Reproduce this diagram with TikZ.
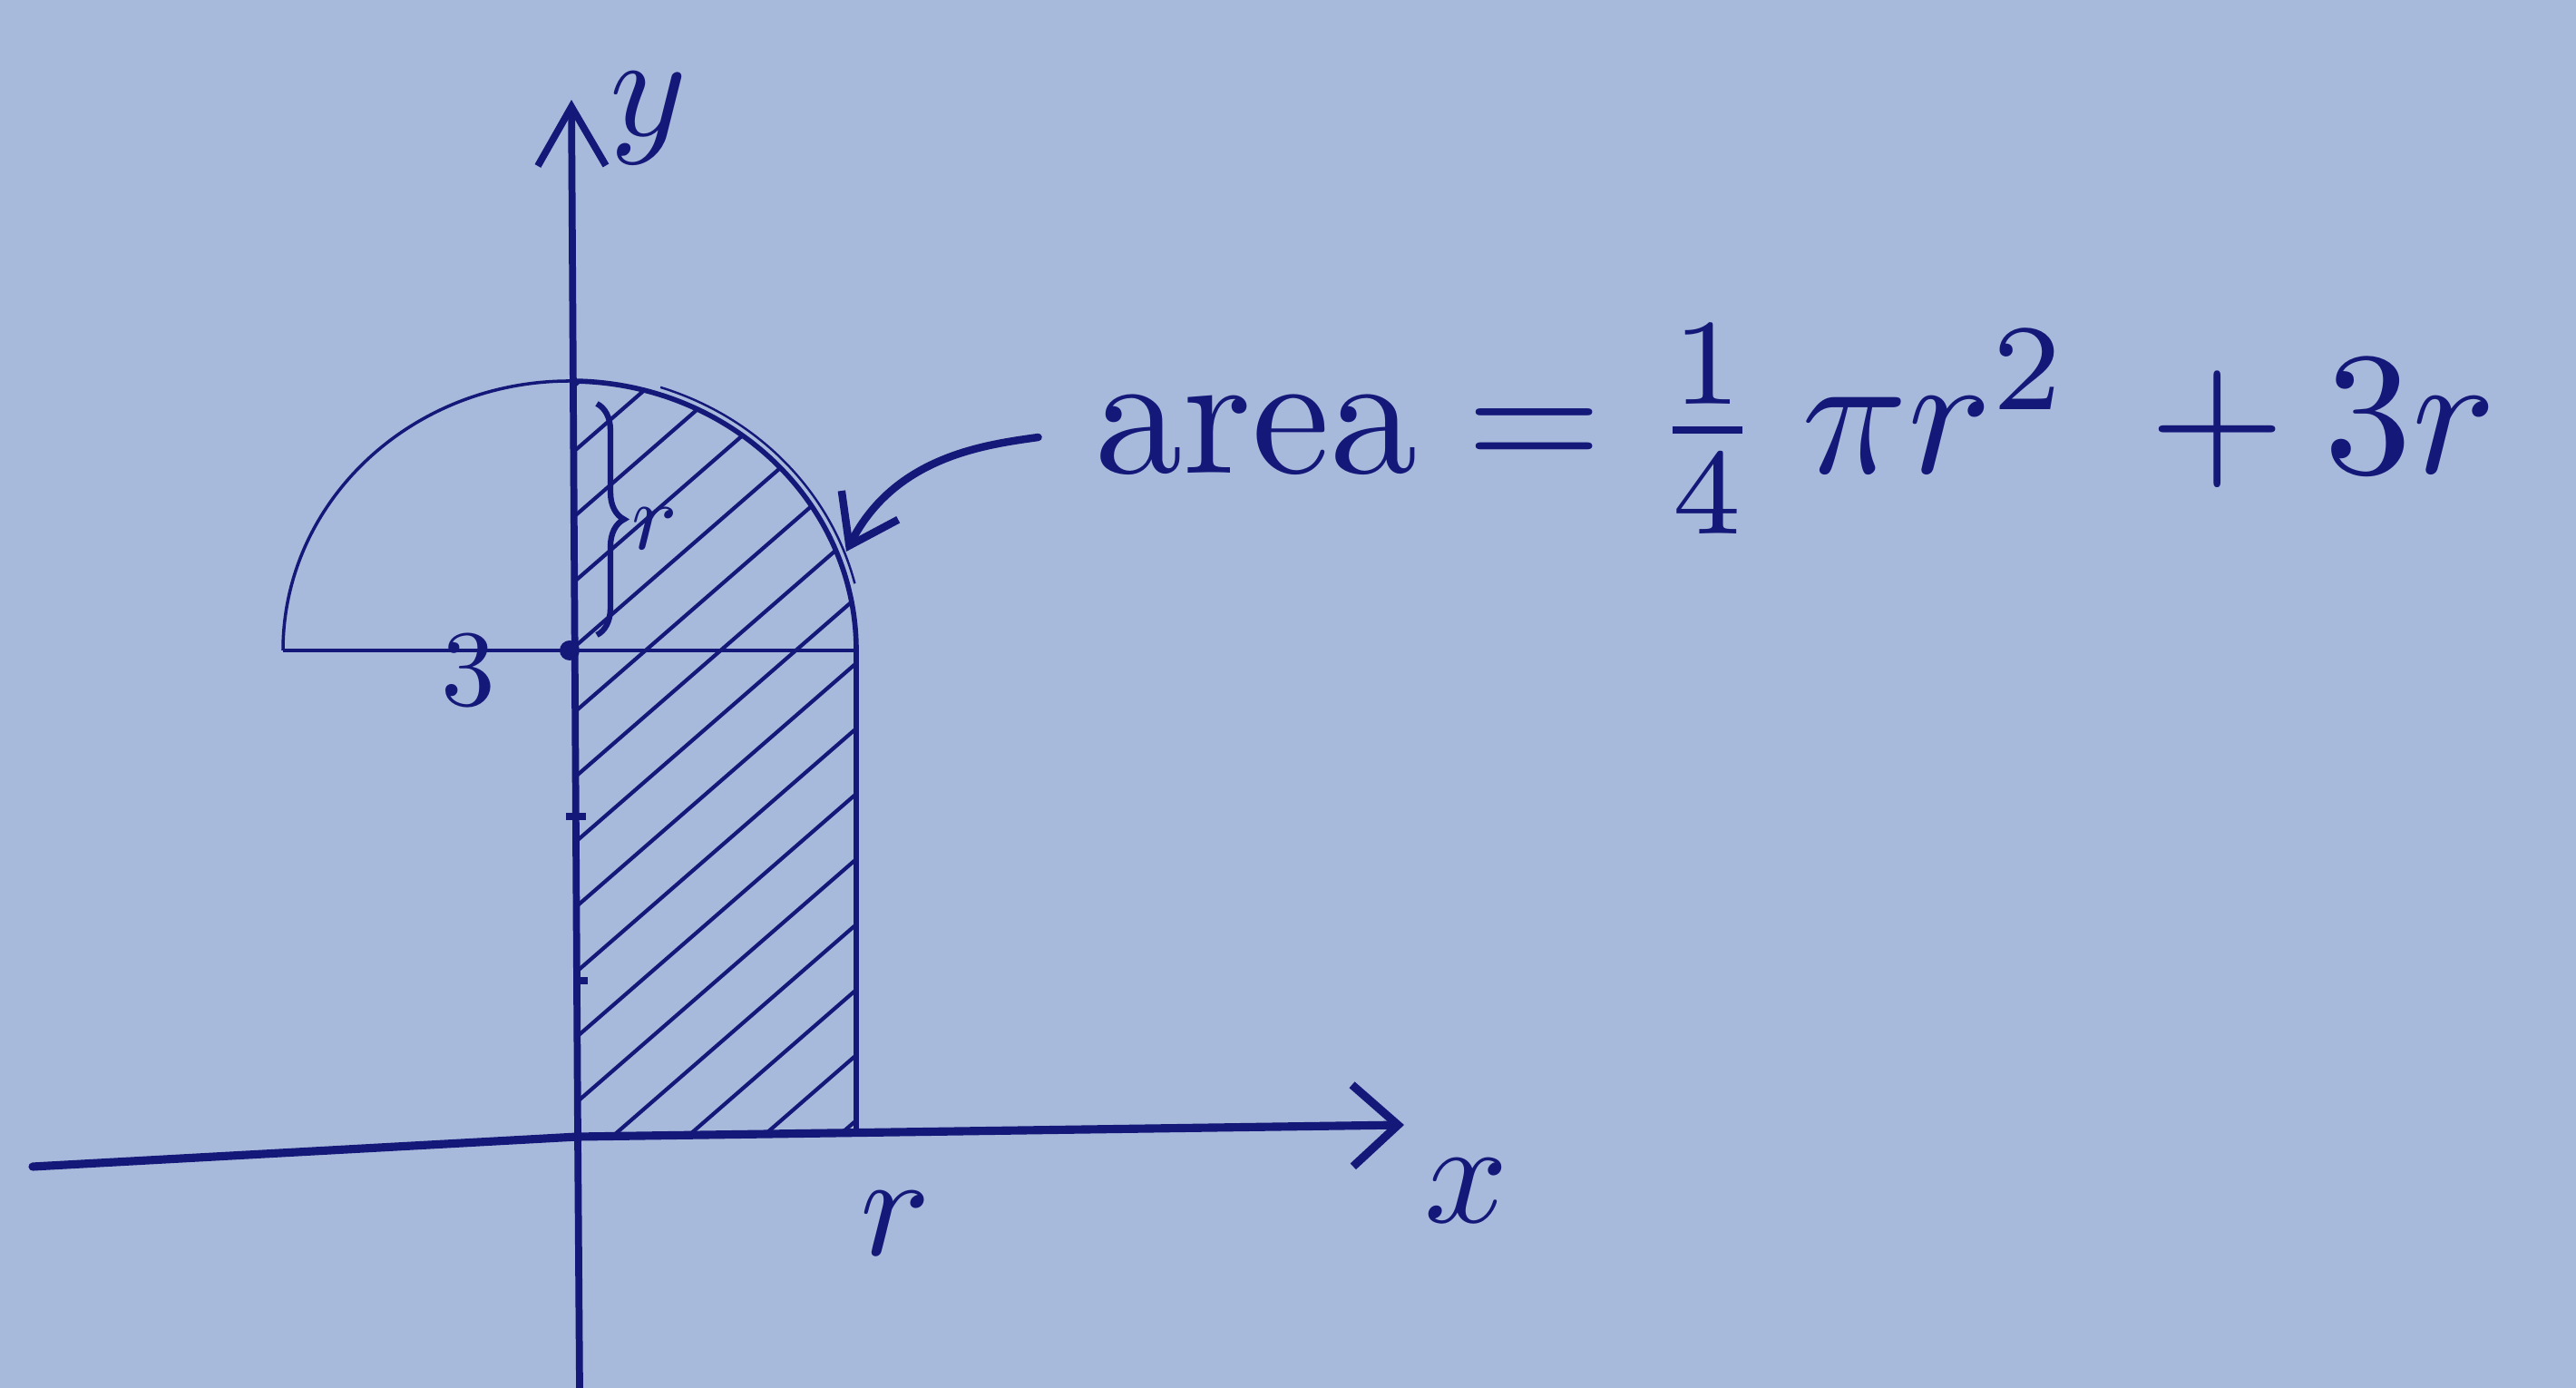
\documentclass[tikz,border=0pt]{standalone}
\usepackage{amsmath}
\usepackage{tikz}
\usetikzlibrary{arrows.meta, positioning, decorations.pathreplacing, calc}
\definecolor{paper}{RGB}{168,186,220}
\definecolor{ink}{RGB}{20,24,120}

\begin{document}
\begin{tikzpicture}[
    axis/.style={draw=ink, line width=2.2pt, line cap=round, line join=round},
    outline/.style={draw=ink, line width=1.6pt},
    thinarc/.style={draw=ink, line width=1pt},
    hatch/.style={draw=ink, line width=1.2pt},
    lbl/.style={text=ink, inner sep=0pt, transform shape},
    pointer/.style={draw=ink, line width=2.4pt, line cap=round, -{Straight Barb[length=5mm,width=7mm]}}
]
    % paper
    \fill[paper] (0,0) rectangle (28.4,15.3);
    \useasboundingbox (0,0) rectangle (28.4,15.3);

    % axes
    \coordinate (O) at (6.37,2.77);
    \coordinate (ybot) at (6.39,0);
    \coordinate (ytop) at (6.30,14.2);
    \coordinate (xleft) at (0.36,2.44);
    \coordinate (xtip) at (15.48,2.90);
    \draw[axis, -{Straight Barb[length=6.5mm,width=7.5mm]}] (ybot) -- (O) -- (ytop);
    \draw[axis, line width=2.6pt, -{Straight Barb[length=5mm,width=9mm]}] (xleft) -- (O) -- (xtip);

    % semicircle about the point 3
    \coordinate (c3) at (6.28,8.13);
    \coordinate (left3) at (3.12,8.13);
    \coordinate (top3) at (6.28,11.10);
    \coordinate (right3) at (9.44,8.13);
    \coordinate (rfoot) at (9.44,2.85);
    \coordinate (arctip) at (9.33,9.22);

    % hatching of the shaded part
    \begin{scope}
        \clip (O) -- (rfoot) -- (right3) arc[start angle=0, end angle=90, x radius=3.16, y radius=2.97] -- cycle;
        \foreach \k in {-4,...,12}
            \draw[hatch] (6.3,3.1+0.72*\k) -- ++(41:6);
    \end{scope}

    \draw[thinarc] (left3) arc[start angle=180, end angle=90, x radius=3.16, y radius=2.97];
    \draw[outline] (top3) arc[start angle=90, end angle=0, x radius=3.16, y radius=2.97];
    \draw[thinarc, line width=0.7pt] ([shift={(72:3.24 and 3.05)}]c3) arc[start angle=72, end angle=14, x radius=3.24, y radius=3.05];
    \draw[outline, line width=1.3pt] (left3) -- (right3);
    \draw[outline, line width=1.9pt] (right3) -- (rfoot);
    \fill[ink] (c3) circle (0.11);

    % ticks on the y axis
    \draw[outline, line width=2pt] (6.24,6.30) -- (6.46,6.30);
    \draw[outline, line width=2pt] (6.36,4.49) -- (6.48,4.49);

    % brace for r
    \draw[outline, line width=1.8pt, decorate, decoration={brace, amplitude=0.3cm}] (6.58,10.85) -- (6.58,8.30);

    % labels
    \node[lbl, scale=3.4] (three) at (5.16,7.91) {3};
    \node[lbl, scale=3.0] (rbrace) at (7.22,9.47) {$r$};
    \node[lbl, scale=4.6] (rx) at (9.87,1.81) {$r$};
    \node[lbl, scale=4.6] (xlab) at (16.17,2.17) {$x$};
    \node[lbl, scale=4.6] (ylab) at (7.15,14.0) {$y$};
    \node[lbl, scale=5.5, anchor=base west] (area) at (12.04,10.08)
        {$\text{area} = \tfrac{1}{4}\mkern4mu\pi r^{2}\mkern4mu+ 3r$};

    \draw[pointer, shorten <=6mm] (area.west) to[out=188, in=63] (arctip);
\end{tikzpicture}
\end{document}
